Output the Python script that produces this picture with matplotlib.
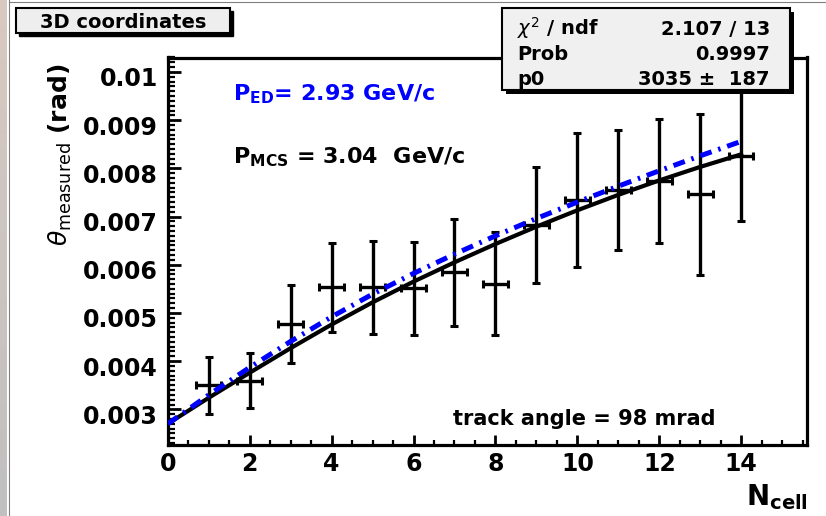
import numpy as np
import matplotlib
matplotlib.use("Agg")
import matplotlib.pyplot as plt
import matplotlib.transforms as mtransforms
from matplotlib.patches import Rectangle
from matplotlib.lines import Line2D
from matplotlib.ticker import MultipleLocator

plt.rcParams['font.family'] = ['DejaVu Sans']
plt.rcParams['mathtext.fontset'] = 'dejavusans'

# measured points
n_cell = [1, 2, 3, 4, 5, 6, 7, 8, 9, 10, 11, 12, 13, 14]
theta = [0.003495, 0.003595, 0.00477, 0.005535, 0.00553, 0.005515, 0.00584,
         0.00561, 0.00682, 0.00735, 0.00755, 0.007735, 0.00746, 0.00826]
theta_err = [0.000585, 0.000575, 0.0008, 0.000925, 0.00097, 0.000965, 0.00111,
             0.00106, 0.0012, 0.00139, 0.00125, 0.001285, 0.00167, 0.00136]
n_err = [0.3] * 14

# fit curves
fit_x = [0, 1, 2, 3, 4, 5, 6, 7, 8, 9, 10, 11, 12, 13, 14]
fit_mcs = [0.00270, 0.00324, 0.00376, 0.00427, 0.00476, 0.00522, 0.00565, 0.00605,
           0.00643, 0.00679, 0.00713, 0.00745, 0.00775, 0.00803, 0.00829]
fit_ed = [0.00270, 0.00330, 0.00387, 0.00441, 0.00492, 0.00539, 0.00582, 0.00622,
          0.00660, 0.00696, 0.00730, 0.00763, 0.00795, 0.00826, 0.00856]

ytick_vals = [0.003, 0.004, 0.005, 0.006, 0.007, 0.008, 0.009, 0.010]
ytick_labels = ["0.003", "0.004", "0.005", "0.006", "0.007", "0.008", "0.009", "0.01"]
xtick_vals = [0, 2, 4, 6, 8, 10, 12, 14]
xtick_labels = ["0", "2", "4", "6", "8", "10", "12", "14"]

W, H = 826, 516


def fpos(x, y):
    # pixel position -> figure fraction
    return x / W, 1 - y / H


fig = plt.figure(figsize=(8.26, 5.16), dpi=100)

# left strip of the window
strip = fig.add_axes([0, 0, 7 / W, 1])
grad = np.linspace(0, 1, 100)[:, None, None]
top_c = np.array([216, 201, 192]) / 255
bot_c = np.array([192, 192, 192]) / 255
strip.imshow(top_c * (1 - grad) + bot_c * grad, aspect='auto')
strip.axis('off')
fig.add_artist(Line2D([9 / W, 9 / W], [0, 1], color='#808080', lw=0.8))
fig.add_artist(Line2D([9 / W, 1], [1 - 1.5 / H, 1 - 1.5 / H], color='#808080', lw=0.8))

ax = fig.add_axes([167.8 / W, 1 - 445 / H, (806.7 - 167.8) / W, (445 - 57.5) / H])

ax.errorbar(n_cell, theta, yerr=theta_err, xerr=n_err, fmt='none', ecolor='black',
            elinewidth=2.4, capsize=3.2, capthick=2.2, zorder=2)
ax.plot(fit_x, fit_mcs, color='black', lw=3, zorder=3)
ax.plot(fit_x, fit_ed, color='#0000ff', lw=3.6, ls=(0, (2.4, 1.4, 0.5, 1.4)), zorder=4)

ax.set_xlim(0, 15.6)
ax.set_ylim(0.00226, 0.0103)
ax.set_xticks(xtick_vals, xtick_labels, fontweight='bold', fontsize=17)
ax.set_yticks(ytick_vals, ytick_labels, fontweight='bold', fontsize=17)
ax.xaxis.set_minor_locator(MultipleLocator(0.5))
ax.yaxis.set_minor_locator(MultipleLocator(0.0001))
ax.tick_params(axis='y', which='major', direction='in', length=9, width=2, pad=7)
ax.tick_params(axis='y', which='minor', direction='in', length=5, width=1.6)
ax.tick_params(axis='x', which='major', direction='in', length=7, width=2, pad=5)
ax.tick_params(axis='x', which='minor', direction='in', length=3.5, width=1.6)
ax.tick_params(which='both', top=False, right=False)
for s in ax.spines.values():
    s.set_linewidth(2.3)

# ROOT puts the y labels a bit low
shift = mtransforms.ScaledTranslation(0, -5 / 100, fig.dpi_scale_trans)
for lbl in ax.get_yticklabels():
    lbl.set_transform(lbl.get_transform() + shift)

# axis titles
fig.text(*fpos(808, 505), r'$\mathbf{N}_{\mathbf{cell}}$', fontsize=20,
         ha='right', va='baseline')
fig.text(*fpos(68, 64), r'$\theta_{\rm measured}$ (rad)', fontsize=18, fontweight='bold',
         rotation=90, rotation_mode='anchor', ha='right', va='baseline')

# annotations
fig.text(*fpos(233, 100), r'$\mathbf{P}_{\mathbf{ED}}$= 2.93 GeV/c', color='#0000ff',
         fontsize=16, fontweight='bold', va='baseline')
fig.text(*fpos(233, 163), r'$\mathbf{P}_{\mathbf{MCS}}$ = 3.04  GeV/c', color='black',
         fontsize=16, fontweight='bold', va='baseline')
fig.text(*fpos(453, 425), 'track angle = 98 mrad', fontsize=15, fontweight='bold',
         va='baseline')

# title box
x0, x1, y0, y1 = fpos(16, 8) + fpos(230, 33)
fig.add_artist(Rectangle((x0 + 3 / W, y1 - 3 / H), 214 / W, 25 / H, transform=fig.transFigure,
                         facecolor='black', edgecolor='black', zorder=5))
fig.add_artist(Rectangle((x0, y1), 214 / W, 25 / H, transform=fig.transFigure,
                         facecolor='#eeeeee', edgecolor='black', lw=1.5, zorder=6))
fig.text(*fpos(123, 28), '3D coordinates', fontsize=14, fontweight='bold',
         ha='center', va='baseline', zorder=7)

# stats box
fig.add_artist(Rectangle((502 / W + 4 / W, 1 - 94 / H), 288 / W, 82 / H,
                         transform=fig.transFigure, facecolor='black', zorder=5))
fig.add_artist(Rectangle((502 / W, 1 - 90 / H), 288 / W, 82 / H,
                         transform=fig.transFigure, facecolor='#f0f0f0',
                         edgecolor='black', lw=1.5, zorder=6))
stat_names = [r'$\chi^{2}$ / ndf', 'Prob', 'p0']
stat_values = ['2.107 / 13', '0.9997', '3035 \u00b1  187']
for i, (nm, val) in enumerate(zip(stat_names, stat_values)):
    yb = 35 + 25 * i
    fig.text(*fpos(517, yb), nm, fontsize=14, fontweight='bold', va='baseline', zorder=7)
    fig.text(*fpos(770, yb), val, fontsize=14, fontweight='bold', va='baseline',
             ha='right', zorder=7)

fig.savefig("out.png", dpi=100)
